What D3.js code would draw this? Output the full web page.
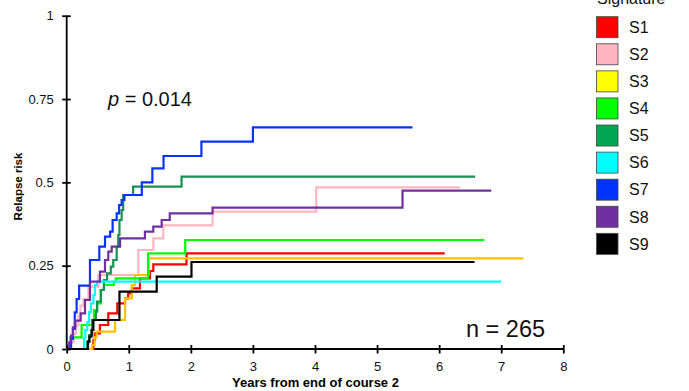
<!DOCTYPE html>
<html>
<head>
<meta charset="utf-8">
<script src="https://cdn.jsdelivr.net/npm/d3@7"></script>
<style>
  html, body { margin: 0; padding: 0; background: #fff; }
  svg { display: block; font-family: "Liberation Sans", Arial, sans-serif; }
</style>
</head>
<body>
<svg id="chart" width="689" height="391"></svg>
<script>
// Cumulative relapse risk by mutational signature group (step functions).
const signatures = ["S1", "S2", "S3", "S4", "S5", "S6", "S7", "S8", "S9"];
const lineColors = ["#ff0000", "#ffb6c1", "#ffc000", "#00ff00", "#16914f", "#00ffff", "#0a32ff", "#7030a0", "#000000"];
const legendColors = ["#ff0000", "#ffb6c1", "#ffff00", "#00ff00", "#00a651", "#00ffff", "#0033ff", "#7030a0", "#000000"];

// Event times (years) and cumulative risk after each event, per group
const S1_t = [0.43, 0.455, 0.535, 0.67, 0.815, 0.94, 0.99, 1.05, 1.18, 1.34, 1.395, 1.93];
const S1_r = [0.027, 0.047, 0.072, 0.107, 0.137, 0.152, 0.167, 0.182, 0.212, 0.234, 0.254, 0.287];
const S2_t = [0.07, 0.11, 0.15, 0.19, 0.22, 0.27, 0.35, 0.51, 1.153, 1.395, 1.556, 2.35, 4.02];
const S2_r = [0.02, 0.045, 0.07, 0.10, 0.13, 0.15, 0.187, 0.222, 0.297, 0.332, 0.371, 0.412, 0.485];
const S3_t = [0.41, 0.45, 0.48, 0.78, 0.94, 1.05, 1.10, 1.32];
const S3_r = [0.012, 0.035, 0.052, 0.087, 0.152, 0.192, 0.222, 0.272];
const S4_t = [0.06, 0.24, 0.41, 0.44, 0.49, 0.55, 0.60, 0.76, 0.79, 1.31, 1.91];
const S4_r = [0.035, 0.072, 0.087, 0.117, 0.137, 0.177, 0.192, 0.202, 0.212, 0.287, 0.327];
const S5_t = [0.33, 0.36, 0.41, 0.47, 0.49, 0.55, 0.60, 0.65, 0.71, 0.75, 0.805, 0.83, 0.85, 0.885, 0.91, 1.07, 1.85];
const S5_r = [0.022, 0.042, 0.087, 0.112, 0.142, 0.177, 0.207, 0.227, 0.247, 0.267, 0.307, 0.342, 0.387, 0.417, 0.462, 0.487, 0.517];
const S6_t = [0.28, 0.30, 0.33, 0.36, 0.39, 0.43, 0.455, 0.49];
const S6_r = [0.033, 0.057, 0.08, 0.11, 0.137, 0.162, 0.192, 0.202];
const S7_t = [0.07, 0.10, 0.13, 0.16, 0.20, 0.375, 0.525, 0.617, 0.70, 0.74, 0.805, 0.845, 0.885, 0.93, 1.21, 1.38, 1.56, 2.17, 3.0];
const S7_r = [0.03, 0.06, 0.11, 0.15, 0.19, 0.267, 0.307, 0.337, 0.352, 0.387, 0.407, 0.432, 0.447, 0.462, 0.5, 0.542, 0.579, 0.622, 0.665];
const S8_t = [0.04, 0.07, 0.10, 0.14, 0.225, 0.295, 0.375, 0.536, 0.617, 0.67, 0.725, 0.86, 1.26, 1.395, 1.53, 1.66, 2.35, 5.41];
const S8_r = [0.02, 0.04, 0.065, 0.085, 0.107, 0.147, 0.202, 0.232, 0.267, 0.292, 0.307, 0.332, 0.352, 0.367, 0.387, 0.407, 0.424, 0.475];
const S9_t = [0.343, 0.367, 0.40, 0.43, 0.85, 1.45, 2.01];
const S9_r = [0.022, 0.037, 0.057, 0.087, 0.172, 0.217, 0.261];

// Last follow-up time per group (years)
const followUp = [6.09, 6.34, 7.36, 6.73, 6.58, 7.0, 5.57, 6.84, 6.57];

const eventTimes = [S1_t, S2_t, S3_t, S4_t, S5_t, S6_t, S7_t, S8_t, S9_t];
const eventRisks = [S1_r, S2_r, S3_r, S4_r, S5_r, S6_r, S7_r, S8_r, S9_r];

const xTicks = [0, 1, 2, 3, 4, 5, 6, 7, 8];
const yTicks = [0, 0.25, 0.5, 0.75, 1];
const yTickLabels = ["0", "0.25", "0.5", "0.75", "1"];

const pLabel = "0.014";
const nLabel = "n = 265";

const svg = d3.select("#chart");

const x = d3.scaleLinear().domain([0, 8]).range([66.7, 563.3]);
const y = d3.scaleLinear().domain([0, 1]).range([349, 15.7]);

// Axes
const xAxis = svg.append("g")
  .attr("transform", `translate(0,${y(0)})`)
  .call(d3.axisBottom(x).tickValues(xTicks).tickFormat(d3.format("d")).tickSizeOuter(0).tickSize(4).tickPadding(9));
const yAxis = svg.append("g")
  .attr("transform", `translate(${x(0)},0)`)
  .call(d3.axisLeft(y).tickValues(yTicks).tickFormat((d, i) => yTickLabels[i]).tickSizeOuter(0).tickSize(4).tickPadding(9));

[xAxis, yAxis].forEach(g => {
  g.select(".domain").attr("stroke", "#000").attr("stroke-width", 1.8);
  g.selectAll(".tick line").attr("stroke", "#000").attr("stroke-width", 1.8);
  g.selectAll(".tick text").attr("font-size", 13).attr("fill", "#111")
    .attr("font-family", "'Liberation Sans', Arial, sans-serif");
});
// ticks cross the axis line on both sides
xAxis.selectAll(".tick line").attr("y1", -4).attr("y2", 4.5);
yAxis.selectAll(".tick line").attr("x1", -4.5).attr("x2", 4);
xAxis.select(".domain").attr("d", `M${x(0)},0H${x(8)}`);
yAxis.select(".domain").attr("d", `M0,${y(0)}V${y(1)}`);

// Axis titles
svg.append("text")
  .attr("x", 315.5).attr("y", 387)
  .attr("text-anchor", "middle")
  .attr("font-size", 13).attr("font-weight", "bold")
  .text("Years from end of course 2");
svg.append("text")
  .attr("transform", `translate(22,186.5) rotate(-90)`)
  .attr("text-anchor", "middle")
  .attr("font-size", 11.5).attr("font-weight", "bold")
  .text("Relapse risk");

// Step curves
const line = d3.line()
  .x(d => x(d[0]))
  .y(d => y(d[1]))
  .curve(d3.curveStepAfter);

signatures.forEach((s, i) => {
  const pts = [[0, 0]];
  eventTimes[i].forEach((t, j) => pts.push([t, eventRisks[i][j]]));
  pts.push([followUp[i], eventRisks[i][eventRisks[i].length - 1]]);
  svg.append("path")
    .datum(pts)
    .attr("fill", "none")
    .attr("stroke", lineColors[i])
    .attr("stroke-width", 2.2)
    .attr("d", line);
});

// Annotations
const pText = svg.append("text")
  .attr("x", 108).attr("y", 105.5)
  .attr("font-size", 20).attr("fill", "#111");
pText.append("tspan").attr("font-style", "italic").text("p");
pText.append("tspan").text(" = " + pLabel);

svg.append("text")
  .attr("x", 466).attr("y", 336.5)
  .attr("font-size", 23.5).attr("fill", "#111")
  .text(nLabel);

// Legend
const legend = svg.append("g");
legend.append("text")
  .attr("x", 597).attr("y", 4)
  .attr("font-size", 16).attr("fill", "#111")
  .text("Signature");
signatures.forEach((s, i) => {
  const yy = 16.7 + i * 27.08;
  legend.append("rect")
    .attr("x", 596.5).attr("y", yy)
    .attr("width", 21.5).attr("height", 21)
    .attr("fill", legendColors[i])
    .attr("stroke", "#444").attr("stroke-width", 0.8);
  legend.append("text")
    .attr("x", 629).attr("y", yy + 10.5)
    .attr("dy", "0.36em")
    .attr("font-size", 16).attr("fill", "#111")
    .text(s);
});
</script>
</body>
</html>
